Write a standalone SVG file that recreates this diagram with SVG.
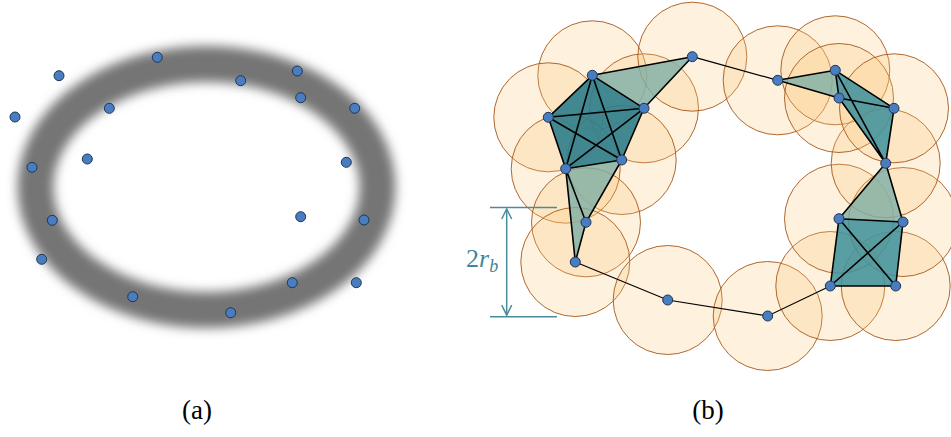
<svg xmlns="http://www.w3.org/2000/svg" width="951" height="437" viewBox="0 0 951 437">
<defs>
<filter id="blur" x="-20%" y="-20%" width="140%" height="140%"><feGaussianBlur stdDeviation="5.5"/></filter>
<marker id="arr" viewBox="0 0 12 12" refX="11" refY="6" markerWidth="12" markerHeight="12" markerUnits="userSpaceOnUse" orient="auto-start-reverse"><path d="M1,1 L11,6 L1,11" fill="none" stroke="#4B8C9C" stroke-width="1.5"/></marker>
</defs>
<style>
.pt{fill:#4A7DC0;stroke:#1E3556;stroke-width:1}
.ball{fill:#FBC878;fill-opacity:0.25;stroke:#A8581A;stroke-opacity:0.9;stroke-width:1}
.tet{fill:#3C919E;fill-opacity:0.85}
.tetd{fill:#2C7D8C;fill-opacity:0.9}
.tri{fill:#7EAFA6;fill-opacity:0.8}
.e{stroke:#000;stroke-width:1.6;fill:none}
.p{stroke:#000;stroke-width:1.2;fill:none}
.cap{font-family:"Liberation Serif",serif;font-size:27px;fill:#000}
.dim{stroke:#4B8C9C;stroke-width:1.5;fill:none}
</style>
<rect width="951" height="437" fill="#fff"/>
<g id="panel-a">
<ellipse cx="206.5" cy="187" rx="171" ry="123" fill="none" stroke="#747474" stroke-width="36" filter="url(#blur)"/>
<g id="a-points">
<circle class="pt" cx="157.3" cy="57.3" r="5"/>
<circle class="pt" cx="59" cy="75.7" r="5"/>
<circle class="pt" cx="297.3" cy="71" r="5"/>
<circle class="pt" cx="240.7" cy="80.7" r="5"/>
<circle class="pt" cx="300.7" cy="97.7" r="5"/>
<circle class="pt" cx="354.7" cy="108.3" r="5"/>
<circle class="pt" cx="109.3" cy="108.3" r="5"/>
<circle class="pt" cx="15" cy="117" r="5"/>
<circle class="pt" cx="87.3" cy="159" r="5"/>
<circle class="pt" cx="346.3" cy="162.3" r="5"/>
<circle class="pt" cx="32" cy="167.3" r="5"/>
<circle class="pt" cx="52.3" cy="220.3" r="5"/>
<circle class="pt" cx="300.7" cy="216.7" r="5"/>
<circle class="pt" cx="364" cy="220" r="5"/>
<circle class="pt" cx="41.7" cy="259.3" r="5"/>
<circle class="pt" cx="292.3" cy="282.7" r="5"/>
<circle class="pt" cx="356.3" cy="282.7" r="5"/>
<circle class="pt" cx="132.7" cy="296.7" r="5"/>
<circle class="pt" cx="230.7" cy="312.7" r="5"/>
</g>
<text class="cap" x="197" y="419" text-anchor="middle">(a)</text>
</g>
<g id="panel-b">
<g id="balls">
<circle class="ball" cx="592.3" cy="75.3" r="54.5"/>
<circle class="ball" cx="548.3" cy="117.3" r="54.5"/>
<circle class="ball" cx="644" cy="108.3" r="54.5"/>
<circle class="ball" cx="621.7" cy="160" r="54.5"/>
<circle class="ball" cx="565.7" cy="168.7" r="54.5"/>
<circle class="ball" cx="692.3" cy="56.7" r="54.5"/>
<circle class="ball" cx="586" cy="222.3" r="54.5"/>
<circle class="ball" cx="575.3" cy="262" r="54.5"/>
<circle class="ball" cx="667.7" cy="300" r="54.5"/>
<circle class="ball" cx="767.7" cy="316" r="54.5"/>
<circle class="ball" cx="830.3" cy="286" r="54.5"/>
<circle class="ball" cx="895.7" cy="286" r="54.5"/>
<circle class="ball" cx="839" cy="218.7" r="54.5"/>
<circle class="ball" cx="903" cy="222" r="54.5"/>
<circle class="ball" cx="885.7" cy="163.3" r="54.5"/>
<circle class="ball" cx="777.7" cy="80.3" r="54.5"/>
<circle class="ball" cx="835.3" cy="70.3" r="54.5"/>
<circle class="ball" cx="839" cy="98" r="54.5"/>
<circle class="ball" cx="894" cy="108.3" r="54.5"/>
</g>
<g id="simplices">
<polygon class="tri" points="592.3,75.3 644,108.3 692.3,56.7"/>
<polygon class="tri" points="565.7,168.7 621.7,160 586,222.3"/>
<polygon class="tri" points="565.7,168.7 586,222.3 575.3,262"/>
<polygon class="tri" points="839,218.7 903,222 885.7,163.3"/>
<polygon class="tri" points="777.7,80.3 835.3,70.3 839,98"/>
<polygon class="tetd" points="592.3,75.3 644,108.3 621.7,160 565.7,168.7 548.3,117.3"/>
<polygon class="tet" points="835.3,70.3 894,108.3 885.7,163.3 839,98"/>
<polygon class="tet" points="839,218.7 903,222 895.7,286 830.3,286"/>
</g>
<g id="connectors">
<path class="e" d="M592.3,75.3L548.3,117.3M592.3,75.3L644,108.3M592.3,75.3L621.7,160M592.3,75.3L565.7,168.7M548.3,117.3L644,108.3M548.3,117.3L621.7,160M548.3,117.3L565.7,168.7M644,108.3L621.7,160M644,108.3L565.7,168.7M621.7,160L565.7,168.7"/>
<path class="e" d="M592.3,75.3L692.3,56.7M644,108.3L692.3,56.7"/>
<path class="e" d="M621.7,160L586,222.3M565.7,168.7L586,222.3M565.7,168.7L575.3,262M586,222.3L575.3,262"/>
<path class="p" d="M575.3,262L667.7,300L767.7,316L830.3,286"/>
<path class="e" d="M830.3,286L895.7,286M830.3,286L839,218.7M830.3,286L903,222M895.7,286L839,218.7M895.7,286L903,222M839,218.7L903,222"/>
<path class="e" d="M839,218.7L885.7,163.3M903,222L885.7,163.3"/>
<path class="p" d="M692.3,56.7L777.7,80.3"/>
<path class="e" d="M777.7,80.3L835.3,70.3M777.7,80.3L839,98M835.3,70.3L839,98"/>
<path class="e" d="M835.3,70.3L894,108.3M835.3,70.3L885.7,163.3M839,98L894,108.3M839,98L885.7,163.3M894,108.3L885.7,163.3"/>
</g>
<g id="b-nodes">
<circle id="nA" class="pt" cx="592.3" cy="75.3" r="5"/>
<circle id="nB" class="pt" cx="548.3" cy="117.3" r="5"/>
<circle id="nC" class="pt" cx="644" cy="108.3" r="5"/>
<circle id="nD" class="pt" cx="621.7" cy="160" r="5"/>
<circle id="nE" class="pt" cx="565.7" cy="168.7" r="5"/>
<circle id="nF" class="pt" cx="692.3" cy="56.7" r="5"/>
<circle id="nG" class="pt" cx="586" cy="222.3" r="5"/>
<circle id="nH" class="pt" cx="575.3" cy="262" r="5"/>
<circle id="nI" class="pt" cx="667.7" cy="300" r="5"/>
<circle id="nJ" class="pt" cx="767.7" cy="316" r="5"/>
<circle id="nK" class="pt" cx="830.3" cy="286" r="5"/>
<circle id="nL" class="pt" cx="895.7" cy="286" r="5"/>
<circle id="nM" class="pt" cx="839" cy="218.7" r="5"/>
<circle id="nN" class="pt" cx="903" cy="222" r="5"/>
<circle id="nO" class="pt" cx="885.7" cy="163.3" r="5"/>
<circle id="nP" class="pt" cx="777.7" cy="80.3" r="5"/>
<circle id="nQ" class="pt" cx="835.3" cy="70.3" r="5"/>
<circle id="nR" class="pt" cx="839" cy="98" r="5"/>
<circle id="nS" class="pt" cx="894" cy="108.3" r="5"/>
</g>
<g id="dimension">
<path class="dim" d="M490,207.5H557M490,316.7H557"/>
<path class="dim" d="M506.7,262V209" marker-end="url(#arr)"/>
<path class="dim" d="M506.7,262V315.2" marker-end="url(#arr)"/>
<text x="466" y="267" font-family="'Liberation Serif',serif" font-size="26" fill="#3F8799">2<tspan font-style="italic">r</tspan><tspan font-style="italic" font-size="18" dy="5">b</tspan></text>
</g>
<text class="cap" x="708" y="419" text-anchor="middle">(b)</text>
</g>
</svg>
